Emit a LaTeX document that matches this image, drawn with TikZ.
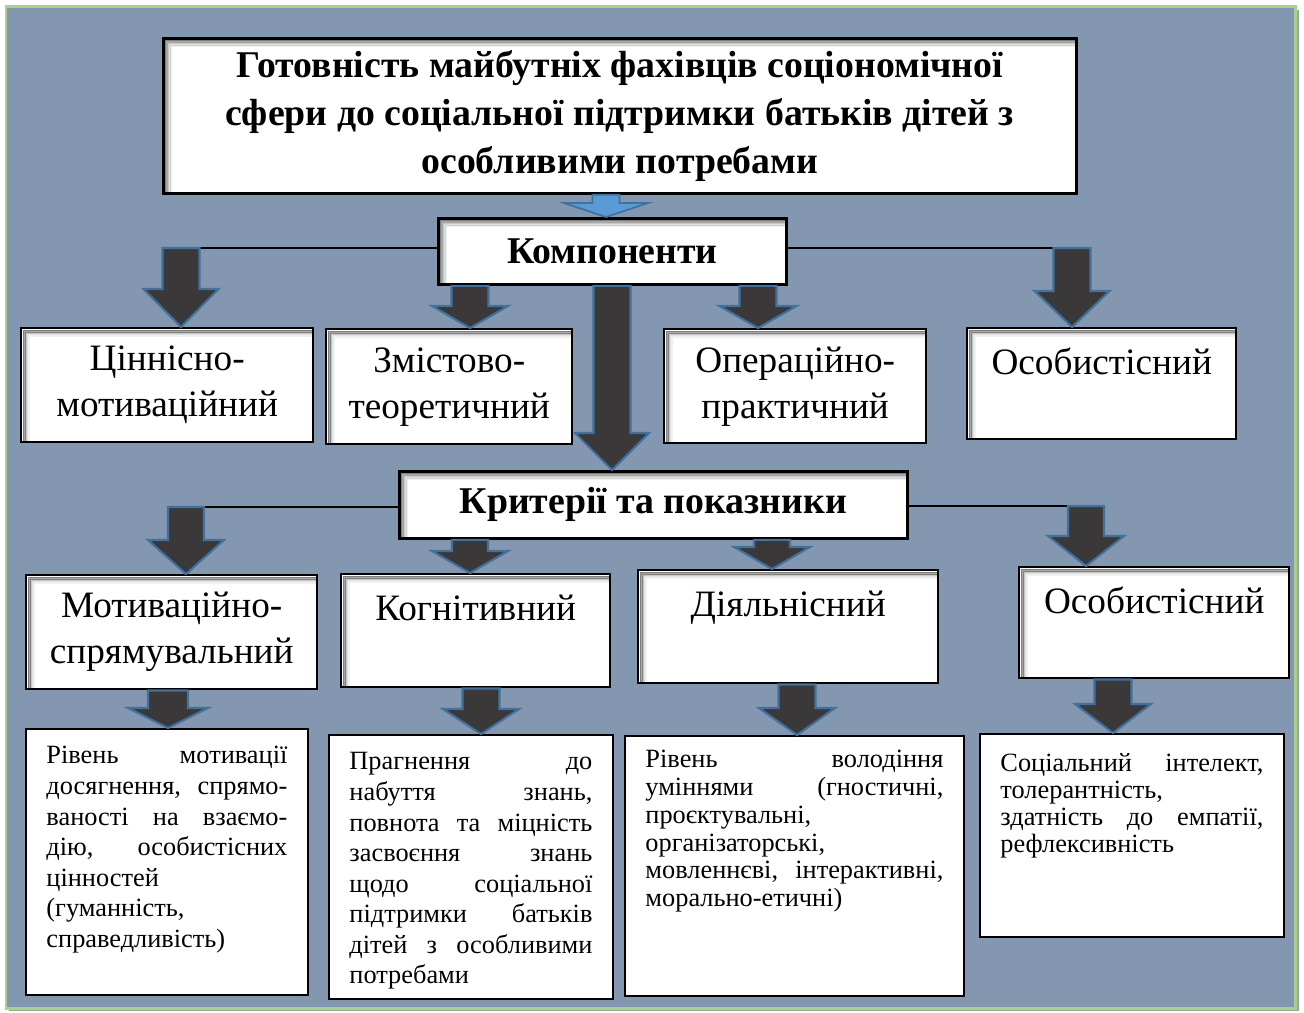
\documentclass[tikz,border=0pt]{standalone}
\usepackage{fontspec}
\setmainfont{Liberation Serif}
\usetikzlibrary{calc,positioning}
\definecolor{bgblue}{RGB}{132,151,176}
\definecolor{framegreen}{RGB}{169,208,142}
\definecolor{frameshadow}{RGB}{158,166,150}
\definecolor{arrdark}{RGB}{58,56,56}
\definecolor{arrblue}{RGB}{65,113,156}
\definecolor{arrsky}{RGB}{91,155,213}
\tolerance=10000 \hyphenpenalty=10000 \hbadness=10000
\tikzset{
  % soft inner shadow along the left and top edges
  inshadow/.style={path picture={
    \foreach \s/\o in {1.2/0.5,2.0/0.35,2.8/0.22,3.6/0.12,4.4/0.06}
      \draw[black,opacity=\o,line width=0.9pt]
        ([xshift=\s pt]path picture bounding box.south west) --
        ([xshift=\s pt,yshift=-\s pt]path picture bounding box.north west) --
        ([yshift=-\s pt]path picture bounding box.north east);}},
  headbox/.style={rectangle,draw=black,line width=1.6pt,fill=white,inshadow,
    align=center,inner sep=0pt,anchor=north west,
    font=\fontsize{21.5}{27.2}\selectfont\bfseries},
  compbox/.style={rectangle,draw=black,line width=1.4pt,fill=white,inshadow,
    align=center,inner sep=0pt,anchor=north west,
    font=\fontsize{21.2}{26.2}\selectfont},
  descbox/.style={rectangle,draw=black,line width=1.1pt,fill=white,
    inner xsep=0.41cm,inner ysep=0.27cm,anchor=north west,
    font=\fontsize{15}{17.4}\selectfont},
  link/.style={line width=1pt},
  blockarr/.style={fill=arrdark,draw=arrblue,line width=1.2pt},
  skyarr/.style={fill=arrsky,draw=arrblue,line width=1pt}
}
% block arrow: [style]{from}{to}{half shaft}{half head}{head length}
\newcommand{\blockarrow}[6][blockarr]{%
  \filldraw[#1] ($(#2)+(-#4,0)$) -- ($(#3)+(-#4,-#6)$) -- ($(#3)+(-#5,-#6)$)
    -- (#3) -- ($(#3)+(#5,-#6)$) -- ($(#3)+(#4,-#6)$) -- ($(#2)+(#4,0)$) -- cycle;}

\begin{document}
\begin{tikzpicture}[x=0.02cm,y=-0.02cm]
  \useasboundingbox (0,0) rectangle (1304,1012);
  \fill[frameshadow] (9,10) rectangle (1299,1011);
  \filldraw[fill=bgblue,draw=framegreen,line width=1.7pt] (6,6) rectangle (1295,1008);

  % title and components
  \node[headbox,minimum width=18.26cm,minimum height=3.10cm] (title) at (162,37)
    {Готовність майбутніх фахівців соціономічної\\сфери до соціальної підтримки батьків дітей з\\особливими потребами};
  \node[headbox,minimum width=6.96cm,minimum height=1.32cm] (komp) at (437,217) {Компоненти};
  \node[compbox,minimum width=5.84cm,minimum height=2.28cm] (v1) at (20,327) {Ціннісно-\\мотиваційний};
  \node[compbox,minimum width=4.92cm,minimum height=2.30cm] (v2) at (325,328) {Змістово-\\теоретичний};
  \node[compbox,minimum width=5.24cm,minimum height=2.28cm] (v3) at (663,328) {Операційно-\\практичний};
  \node[compbox,minimum width=5.38cm,minimum height=2.22cm] (v4) at (966,327) {Особистісний\\ \phantom{м}};

  % criteria
  \node[headbox,minimum width=10.16cm,minimum height=1.34cm] (krit) at (398,470) {Критерії та показники};
  \node[compbox,minimum width=5.82cm,minimum height=2.28cm] (c1) at (25,574) {Мотиваційно-\\спрямувальний};
  \node[compbox,minimum width=5.38cm,minimum height=2.26cm] (c2) at (340,573) {Когнітивний\\ \phantom{м}};
  \node[compbox,minimum width=6.00cm,minimum height=2.26cm] (c3) at (637,569) {Діяльнісний\\ \phantom{м}};
  \node[compbox,minimum width=5.40cm,minimum height=2.22cm] (c4) at (1018,566) {Особистісний\\ \phantom{м}};

  % indicators
  \node[descbox] (p1) at (25,728) {\parbox[t][4.78cm][t]{4.82cm}{\strut
    Рівень мотивації\linebreak досягнення, спрямо-\linebreak ваності на взаємо-\linebreak
    дію, особистісних\linebreak цінностей\\ (гуманність,\\ справедливість)}};
  \node[descbox] (p2) at (328,734) {\parbox[t][4.74cm][t]{4.86cm}{\strut
    Прагнення до\linebreak набуття знань,\linebreak повнота та міцність\linebreak
    засвоєння знань\linebreak щодо соціальної\linebreak підтримки батьків\linebreak
    дітей з особливими\linebreak потребами}};
  \node[descbox,inner ysep=0.25cm,font=\fontsize{15}{15.8}\selectfont] (p3) at (624,735)
    {\parbox[t][4.70cm][t]{5.96cm}{\strut
    Рівень володіння\linebreak уміннями (гностичні,\linebreak проєктувальні,\\
    організаторські,\\ мовленнєві, інтерактивні,\linebreak морально-етичні)}};
  \node[descbox,inner ysep=0.36cm,font=\fontsize{15}{15.5}\selectfont] (p4) at (979,733)
    {\parbox[t][3.34cm][t]{5.26cm}{\strut
    Соціальний інтелект,\linebreak толерантність,\\
    здатність до емпатії,\linebreak рефлексивність}};

  % arrow positions
  \coordinate (a0) at (606,0);
  \coordinate (k1) at (181,248);
  \coordinate (k2) at (470,0);
  \coordinate (k0) at (612,0);
  \coordinate (k3) at (758,0);
  \coordinate (k4) at (1072,248);
  \coordinate (q1) at (186,507);
  \coordinate (q2) at (470,0);
  \coordinate (q3) at (772,0);
  \coordinate (q4) at (1086,506);
  \coordinate (d1) at (168,0);
  \coordinate (d2) at (481,0);
  \coordinate (d3) at (797,0);
  \coordinate (d4) at (1113,0);

  % branch lines
  \draw[link] (komp.west |- k1) -- (k1);
  \draw[link] (komp.east |- k4) -- (k4);
  \draw[link,line width=1.6pt] (krit.west |- q1) -- (q1);
  \draw[link,line width=1.6pt] (krit.east |- q4) -- (q4);

  % block arrows
  \blockarrow[skyarr]{a0 |- title.south}{a0 |- komp.north}{13.5}{42}{14}
  \blockarrow{k1}{k1 |- v1.north}{18.5}{37.5}{38}
  \blockarrow{k2 |- komp.south}{k2 |- v2.north}{18.5}{38}{22}
  \blockarrow{k3 |- komp.south}{k3 |- v3.north}{18.5}{38.5}{22}
  \blockarrow{k4}{k4 |- v4.north}{18.5}{37.5}{36}
  \blockarrow{k0 |- komp.south}{k0 |- krit.north}{18.5}{37}{37}
  \blockarrow{q1}{q1 |- c1.north}{18}{38}{34}
  \blockarrow{q2 |- krit.south}{q2 |- c2.north}{18}{38}{22}
  \blockarrow{q3 |- krit.south}{q3 |- c3.north}{18}{38}{22}
  \blockarrow{q4}{q4 |- c4.north}{18}{38}{30}
  \blockarrow{d1 |- c1.south}{d1 |- p1.north}{20}{40}{20}
  \blockarrow{d2 |- c2.south}{d2 |- p2.north}{18.5}{38}{25}
  \blockarrow{d3 |- c3.south}{d3 |- p3.north}{18.5}{38}{27}
  \blockarrow{d4 |- c4.south}{d4 |- p4.north}{18.5}{38}{29}
\end{tikzpicture}
\end{document}
